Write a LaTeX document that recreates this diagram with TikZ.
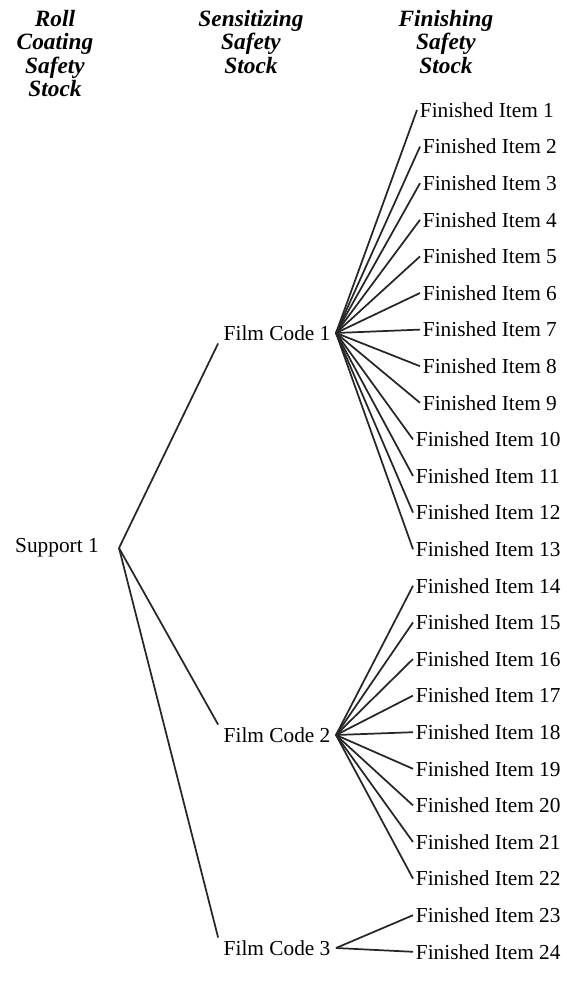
\documentclass[tikz,border=0pt]{standalone}
\usepackage{fontspec}
\setmainfont{Liberation Serif}
\usetikzlibrary{positioning}

\tikzset{
  head/.style={align=center, anchor=north, inner sep=0pt,
    font=\fontsize{17.5}{17.6}\selectfont\bfseries\itshape},
  item/.style={anchor=west, inner xsep=2pt, inner ysep=1pt,
    font=\fontsize{16}{16}\selectfont},
  film/.style={anchor=east, inner xsep=4pt, inner ysep=2pt,
    font=\fontsize{16}{16}\selectfont},
  support/.style={anchor=east, inner xsep=15pt, inner ysep=2pt,
    font=\fontsize{16}{16}\selectfont},
  link/.style={draw=black!85, line width=1.3pt},
}

\begin{document}
\begin{tikzpicture}[x=0.75pt, y=-0.75pt]
\useasboundingbox (0,0) rectangle (567,996);

% Column heads
\node[head] (hroll) at (55,10) {Roll\\Coating\\Safety\\Stock};
\node[head] (hsens) at (251,10) {Sensitizing\\Safety\\Stock};
\node[head] (hfin) at (446,10) {Finishing\\Safety\\Stock};

% Support and film codes
\node[support] (sup) at (119,548) {Support 1};
\node[film] (fc1) at (336,333) {Film Code 1};
\node[film] (fc2) at (336,735) {Film Code 2};
\node[film] (fc3) at (336,948) {Film Code 3};

% Finished items
\node[item] (i1) at (417,110) {Finished Item 1};
\foreach \i in {2,...,9}
  \node[item] (i\i) at (420,{110+36.6*(\i-1)}) {Finished Item \i};
\foreach \i in {10,...,24}
  \node[item] (i\i) at (413,{110+36.6*(\i-1)}) {Finished Item \i};

% Links
\draw[link] (sup.east) -- (fc1.south west);
\foreach \f in {2,3}
  \draw[link] (sup.east) -- (fc\f.north west);
\foreach \i in {1,...,13}
  \draw[link] (fc1.east) -- (i\i.west);
\foreach \i in {14,...,22}
  \draw[link] (fc2.east) -- (i\i.west);
\foreach \i in {23,24}
  \draw[link] (fc3.east) -- (i\i.west);
\end{tikzpicture}
\end{document}
